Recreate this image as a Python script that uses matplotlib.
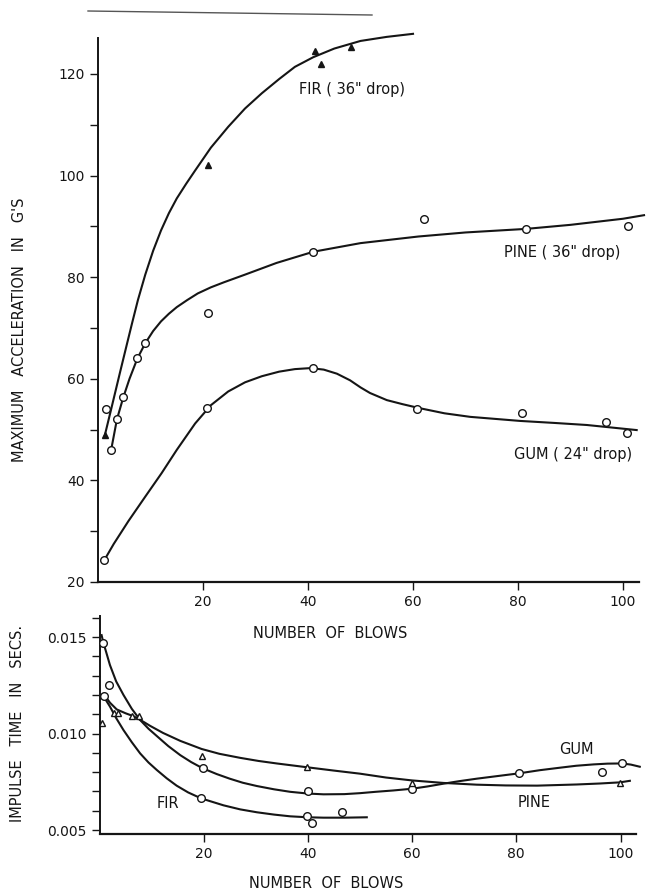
import matplotlib
matplotlib.use('Agg')
import matplotlib.pyplot as plt
from matplotlib.lines import Line2D
from matplotlib.ticker import MultipleLocator, FormatStrFormatter

# ---- top panel: maximum acceleration (G's) vs number of blows ----
fir_pts_x = [1.3, 21, 41.3, 42.4, 48.2]
fir_pts_y = [48.9, 102, 124.6, 122, 125.4]
fir_fit_x = [1.3, 2.5, 4.2, 5.5, 6.5, 7.6, 9, 10.5, 12, 13.5, 15, 16.8, 18.5, 21.5,
             24.8, 28, 31.2, 34.5, 37.5, 41, 45, 50, 55, 60]
fir_fit_y = [48.9, 54, 61.3, 66.8, 71, 75.5, 80.5, 85.2, 89.2, 92.6, 95.5, 98.4,
             101, 105.5, 109.6, 113.2, 116.2, 119, 121.4, 123.3, 125, 126.5,
             127.3, 127.9]

pine_pts_x = [1.6, 2.5, 3.6, 4.8, 7.5, 9, 21, 41, 62, 81.5, 101]
pine_pts_y = [54, 46, 52, 56.5, 64, 67, 73, 85, 91.5, 89.5, 90]
pine_fit_x = [2.5, 3.6, 4.8, 6, 7.5, 9, 10.5, 12, 13.5, 15, 17, 19, 21.5, 24, 28,
              34, 41, 50, 61, 70, 81.5, 90, 100, 104]
pine_fit_y = [46, 52, 56.3, 60, 64, 67, 69.4, 71.3, 72.8, 74.1, 75.5, 76.8, 78,
              79, 80.5, 82.8, 85, 86.7, 88, 88.8, 89.5, 90.3, 91.5, 92.2]

gum_pts_x = [1.2, 20.7, 41, 60.7, 80.7, 96.7, 100.7]
gum_pts_y = [24.3, 54.2, 62.1, 54, 53.2, 51.4, 49.3]
gum_fit_x = [1.2, 3, 5.8, 9, 12.1, 15, 18.5, 21.5, 24.8, 28, 31.2, 34.5, 37.5, 40.5,
             43, 45.5, 48, 50, 51.8, 55, 58, 61.3, 66, 70.9, 80.4, 87, 93.1, 102.6]
gum_fit_y = [24.3, 27.5, 32, 36.8, 41.4, 46, 51.2, 54.8, 57.5, 59.3, 60.5, 61.4,
             61.9, 62.1, 61.8, 61, 59.7, 58.3, 57.2, 55.8, 55, 54.2, 53.2, 52.5,
             51.7, 51.3, 50.9, 49.9]

# ---- bottom panel: impulse time (secs) vs number of blows ----
gum2_pts_x = [0.7, 1.8, 19.8, 40.1, 60, 80.6, 96.5, 100.3]
gum2_pts_y = [0.0147, 0.01251, 0.0082, 0.0070, 0.00712, 0.00794, 0.00799, 0.00849]
gum2_fit_x = [0.4, 0.7, 1.3, 2, 3.2, 4.6, 6.2, 7.8, 9.4, 11, 13.2, 15.5, 17.6, 19.8,
              22.5, 25, 27.5, 30.2, 33.5, 36.6, 40, 43, 47, 50, 53, 56.4, 60, 63,
              66, 69, 72.4, 76.5, 80.6, 84.5, 88.4, 91.5, 94.8, 97.5, 100.3, 102,
              103.7]
gum2_fit_y = [0.0151, 0.01475, 0.0142, 0.01355, 0.0127, 0.0120, 0.01128, 0.0107,
              0.01025, 0.00987, 0.00935, 0.00888, 0.00852, 0.0082, 0.0079, 0.00766,
              0.00745, 0.00728, 0.00711, 0.00698, 0.00689, 0.00685, 0.00686,
              0.00691, 0.00698, 0.00705, 0.00714, 0.00726, 0.0074, 0.00753,
              0.00766, 0.0078, 0.00794, 0.0081, 0.00823, 0.00833, 0.0084, 0.00844,
              0.00845, 0.00839, 0.00828]

pine2_pts_x = [0.5, 2.7, 3.5, 6.2, 7.5, 19.6, 39.9, 60, 99.9]
pine2_pts_y = [0.01053, 0.01105, 0.01105, 0.0109, 0.0109, 0.00883, 0.00828,
               0.00745, 0.00742]
pine2_fit_x = [1.1, 2, 3.3, 5, 6.5, 8, 9.7, 12.2, 15.5, 19.6, 23, 27, 30.5, 34, 39.9,
               45, 50, 55, 60, 66, 72.4, 78, 84, 91.6, 96, 99.9, 101.8]
pine2_fit_y = [0.01194, 0.0116, 0.01125, 0.01105, 0.0109, 0.01068, 0.0104, 0.01003,
               0.00962, 0.0092, 0.00895, 0.00874, 0.00858, 0.00845, 0.00825,
               0.00808, 0.00792, 0.00772, 0.00757, 0.00744, 0.00735, 0.00731,
               0.0073, 0.00736, 0.00741, 0.00747, 0.00755]

fir2_pts_x = [0.9, 19.5, 39.9, 40.7, 46.5]
fir2_pts_y = [0.01194, 0.00664, 0.00573, 0.00538, 0.00595]
fir2_fit_x = [0.6, 1.3, 2, 3.2, 4.6, 6.2, 7.8, 9.4, 11, 12.9, 14.8, 17, 19.5, 23.8,
              27, 30.2, 33.5, 36.6, 40, 43, 47, 51.3]
fir2_fit_y = [0.01195, 0.0117, 0.0114, 0.0108, 0.01018, 0.00955, 0.00897, 0.0085,
              0.00811, 0.00768, 0.0073, 0.00695, 0.00664, 0.00628, 0.00607,
              0.00592, 0.0058, 0.00571, 0.00566, 0.00564, 0.00564, 0.00566]

INK = '#151515'
plt.rcParams['font.family'] = ['DejaVu Sans']
plt.rcParams['text.color'] = INK
plt.rcParams['xtick.color'] = INK
plt.rcParams['ytick.color'] = INK
plt.rcParams['axes.edgecolor'] = INK

fig = plt.figure(figsize=(6.47, 8.93), dpi=100)
ax1 = fig.add_axes([0.1515, 0.3483, 0.8358, 0.6087])
ax2 = fig.add_axes([0.1538, 0.0662, 0.8294, 0.2442])

line_kw = dict(color=INK, lw=1.5, zorder=2, clip_on=False,
               solid_joinstyle='round')
circ_kw = dict(ls='none', marker='o', ms=5.5, mfc='white', mec=INK, mew=1.0,
               zorder=3, clip_on=False)


def style_axes(ax):
    for side in ('top', 'right'):
        ax.spines[side].set_visible(False)
    ax.spines['left'].set_linewidth(1.4)
    ax.spines['bottom'].set_linewidth(1.6)
    ax.tick_params(which='both', direction='out', labelsize=10, width=1.0)
    ax.tick_params(which='major', length=6)
    ax.tick_params(which='minor', length=6)
    ax.set_xlim(0, 103)
    ax.set_xticks([20, 40, 60, 80, 100])


# top panel
ax1.plot(fir_fit_x, fir_fit_y, **line_kw)
ax1.plot(pine_fit_x, pine_fit_y, **line_kw)
ax1.plot(gum_fit_x, gum_fit_y, **line_kw)
ax1.plot(fir_pts_x, fir_pts_y, ls='none', marker='^', ms=5, color=INK, zorder=3)
ax1.plot(pine_pts_x, pine_pts_y, **circ_kw)
ax1.plot(gum_pts_x, gum_pts_y, **circ_kw)
style_axes(ax1)
ax1.set_ylim(20, 127)
ax1.set_yticks([20, 40, 60, 80, 100, 120])
ax1.yaxis.set_minor_locator(MultipleLocator(10))
ax1.text(48.4, 117, 'FIR ( 36" drop)', fontsize=10.5, ha='center', va='center')
ax1.text(88.4, 84.9, 'PINE ( 36" drop)', fontsize=10.5, ha='center', va='center')
ax1.text(90.5, 45, 'GUM ( 24" drop)', fontsize=10.5, ha='center', va='center')

# bottom panel
ax2.plot(gum2_fit_x, gum2_fit_y, **line_kw)
ax2.plot(pine2_fit_x, pine2_fit_y, **line_kw)
ax2.plot(fir2_fit_x, fir2_fit_y, **line_kw)
ax2.plot(gum2_pts_x, gum2_pts_y, **circ_kw)
ax2.plot(fir2_pts_x, fir2_pts_y, **circ_kw)
ax2.plot(pine2_pts_x, pine2_pts_y, ls='none', marker='^', ms=5, mfc='white',
         mec=INK, mew=1.0, zorder=3)
style_axes(ax2)
ax2.set_ylim(0.0048, 0.0161)
ax2.set_yticks([0.005, 0.010, 0.015])
ax2.yaxis.set_major_formatter(FormatStrFormatter('%.3f'))
ax2.yaxis.set_minor_locator(MultipleLocator(0.001))
ax2.text(13.2, 0.0064, 'FIR', fontsize=10.5, ha='center', va='center')
ax2.text(91.6, 0.00915, 'GUM', fontsize=10.5, ha='center', va='center')
ax2.text(83.4, 0.00641, 'PINE', fontsize=10.5, ha='center', va='center')

# axis titles placed like the drawing
fig.text(330 / 647, 1 - 633 / 893, 'NUMBER  OF  BLOWS', fontsize=10.5,
         ha='center', va='center')
fig.text(326 / 647, 1 - 883 / 893, 'NUMBER  OF  BLOWS', fontsize=10.5,
         ha='center', va='center')
fig.text(20 / 647, 1 - 330 / 893, 'MAXIMUM   ACCELERATION   IN   G\'S',
         fontsize=10.5, rotation=90, ha='center', va='center')
fig.text(18 / 647, 1 - 723 / 893, 'IMPULSE   TIME   IN   SECS.',
         fontsize=10.5, rotation=90, ha='center', va='center')

# stray rule at the top of the scan
fig.add_artist(Line2D([88 / 647, 372 / 647], [1 - 11 / 893, 1 - 15 / 893],
                      color='#555555', lw=1.0))

fig.savefig('out.png', dpi=100, facecolor='white')
